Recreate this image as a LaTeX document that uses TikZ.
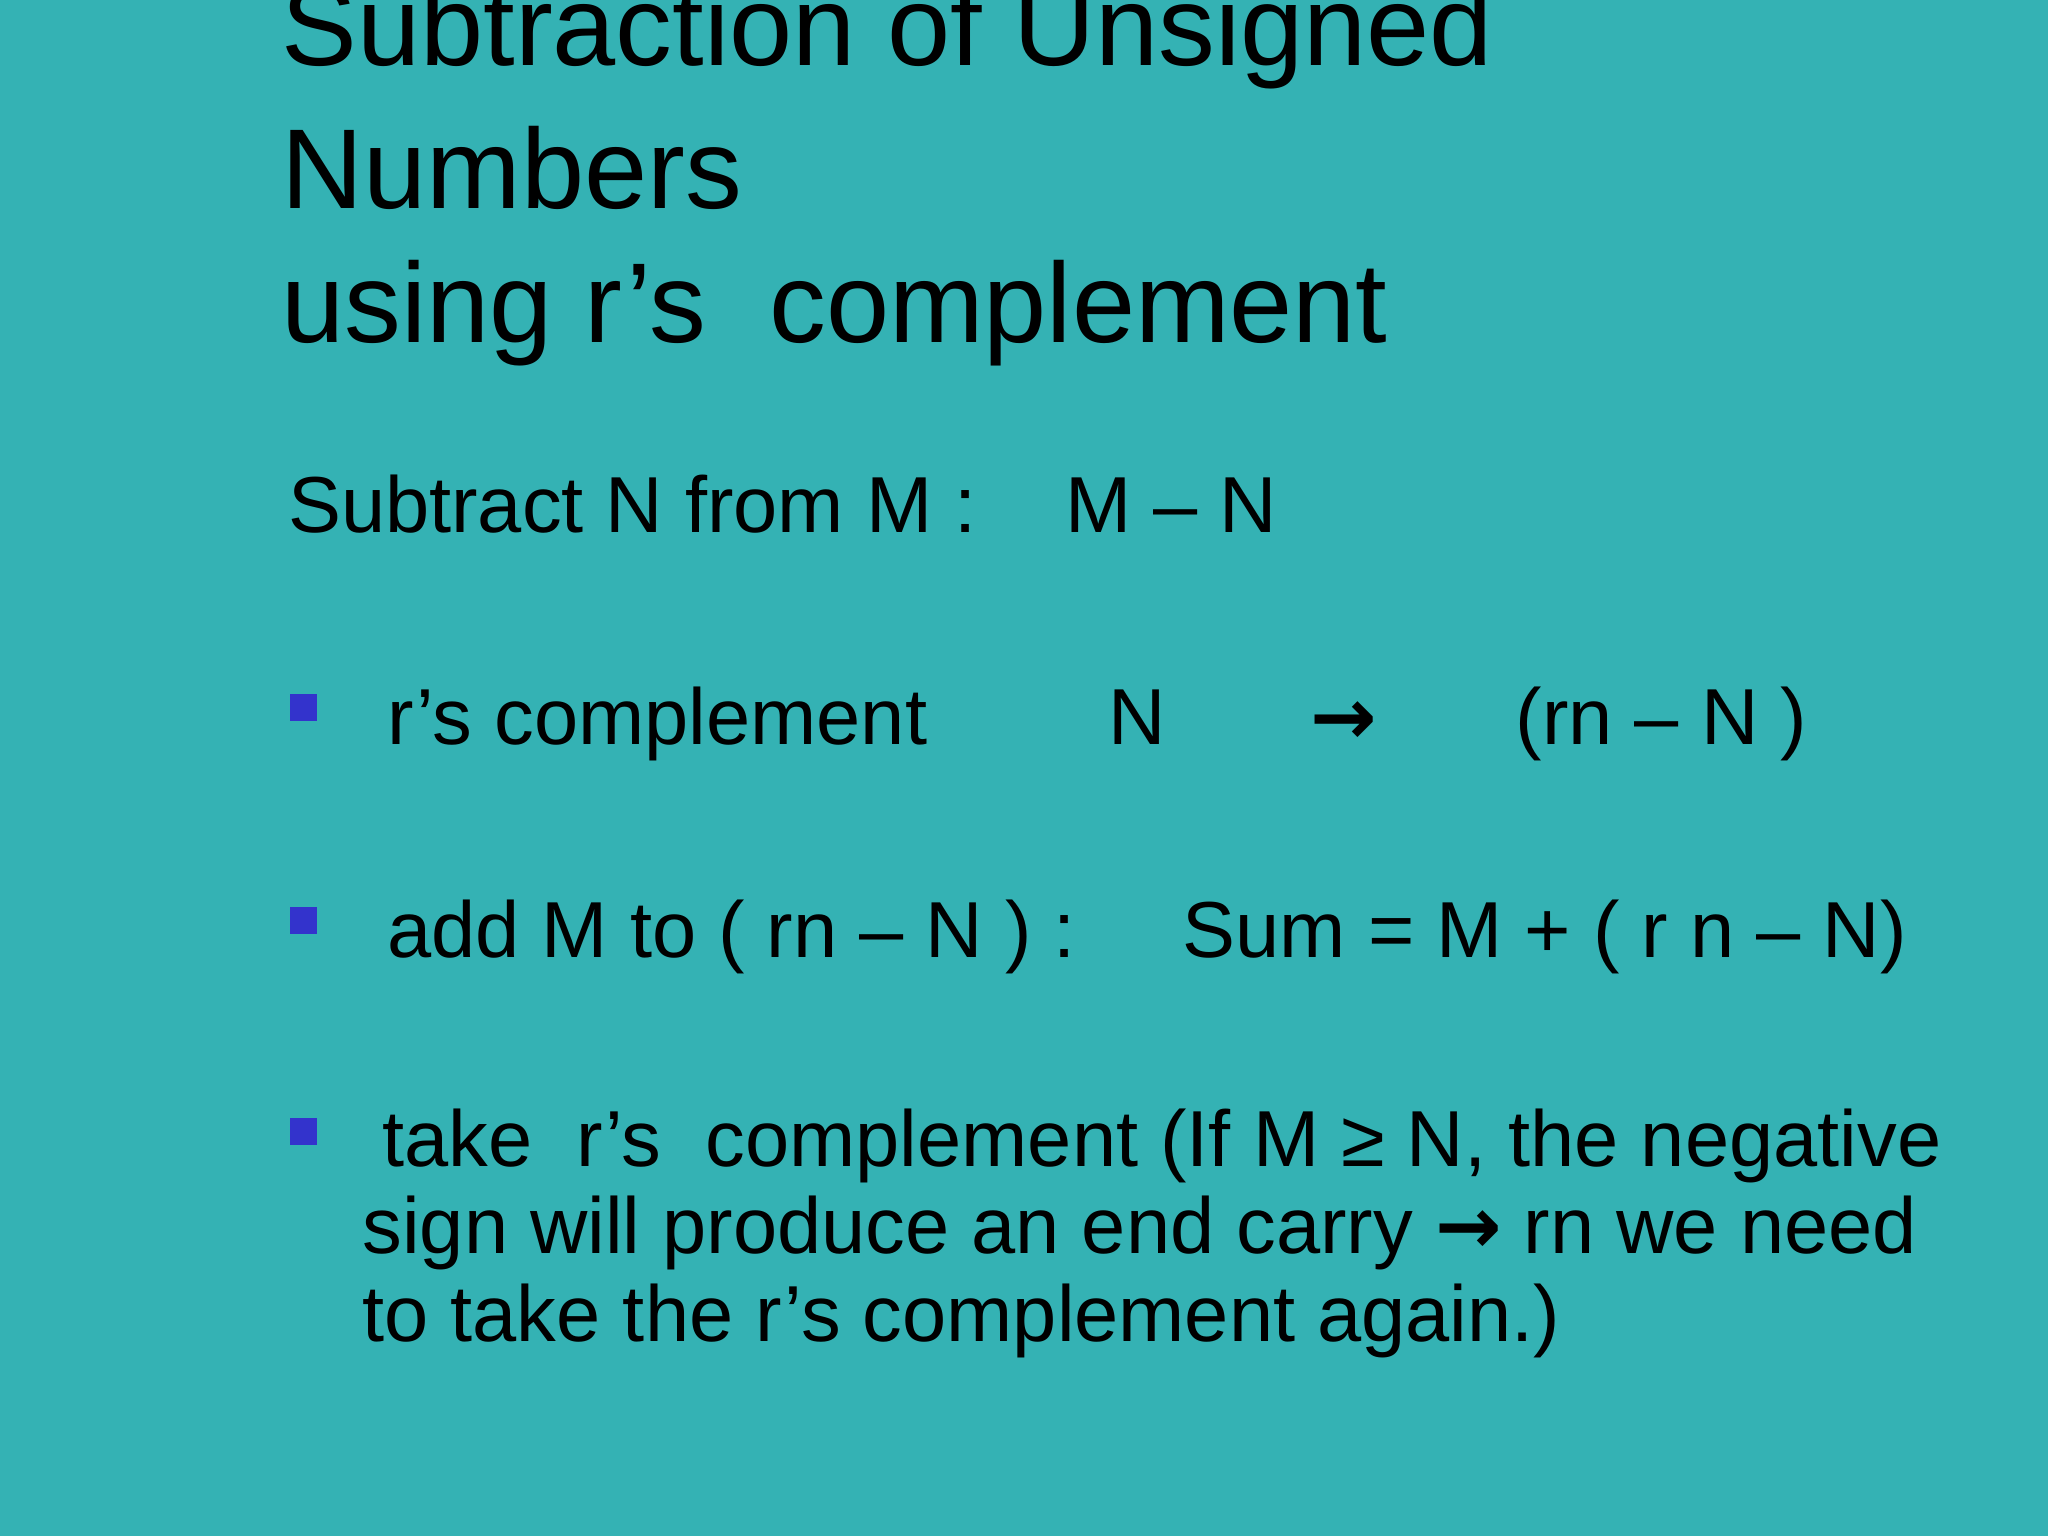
\documentclass[tikz,border=0pt]{standalone}
\usepackage{fontspec}
\setmainfont{Liberation Sans}
\newfontfamily\dv{DejaVu Sans}
\definecolor{bg}{RGB}{52,178,180}
\definecolor{bul}{RGB}{51,51,204}
\begin{document}
\begin{tikzpicture}[x=0.01306cm,y=-0.01306cm,
  ttl/.style={anchor=base west,inner sep=0pt,font=\fontsize{32.3}{38}\selectfont},
  bd/.style={anchor=base west,inner sep=0pt,font=\fontsize{22.6}{27}\selectfont},
  bsq/.style={fill=bul,minimum size=0.27cm,inner sep=0pt}]
\fill[bg] (0,0) rectangle (1568,1176);
\useasboundingbox (0,0) rectangle (1568,1176);
\node[ttl] (t1) at (215,50) {Subtraction of Unsigned};
\node[ttl] (t2) at (215,160) {Numbers};
\node[ttl] (t3) at (215,262) {using r’s\ \ complement};
\node[bd] (s1) at (220,408) {Subtract N from M :};
\node[bd] (s2) at (815,408) {M – N};
\node[bsq] (b1) at (232,542) {};
\node[bd] (a1) at (296,570) {r’s complement};
\node[bd] (a2) at (848,570) {N};
\node[bd] (a3) at (1003,570) {\dv\bfseries →};
\node[bd] (a4) at (1160,570) {(rn – N )};
\node[bsq] (b2) at (232,705) {};
\node[bd] (c1) at (296,733) {add M to ( rn – N ) :};
\node[bd] (c2) at (905,733) {Sum = M + ( r n – N)};
\node[bsq] (b3) at (232,866) {};
\node[bd] (d1) at (292,893) {take\ \ r’s\ \ complement (If M ≥ N, the negative};
\node[bd] (d2) at (277,960) {sign will produce an end carry {\dv\bfseries →} rn we need};
\node[bd] (d3) at (277,1027) {to take the r’s complement again.)};
\end{tikzpicture}
\end{document}
